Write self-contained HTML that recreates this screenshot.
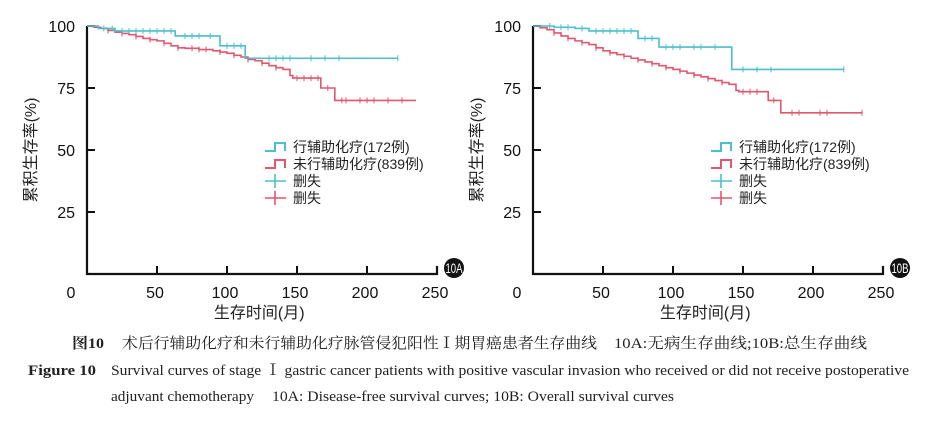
<!DOCTYPE html>
<html><head><meta charset="utf-8"><style>
html,body{margin:0;padding:0;background:#fff;}
svg{display:block;}
</style></head><body>
<svg id="fig" width="935" height="422" viewBox="0 0 935 422" xmlns="http://www.w3.org/2000/svg"></svg>
<script>
// ---- data ----
const xTicks = [0, 50, 100, 150, 200, 250];
const yTicks = [25, 50, 75, 100];
// Panel A (disease-free survival)
const aCyanT = [0, 8, 20, 63, 95, 113, 222];
const aCyanS = [100, 99, 98, 96, 92, 87, 87];
const aRedT = [0, 5, 10, 15, 20, 25, 30, 35, 40, 45, 50, 55, 60, 65, 70, 80, 90, 95, 100, 105, 110, 115, 120, 125, 130, 135, 140, 145, 147, 167, 177, 235];
const aRedS = [100, 99.5, 99, 98.2, 97.5, 97, 96.5, 95.8, 95, 94.5, 94, 93, 92, 91.2, 91, 90.5, 90, 89.5, 89, 88.2, 87.5, 86.5, 86, 85, 84, 83.2, 82.5, 80, 79, 75, 70, 70];
const aCyanCens = [12, 18, 25, 30, 35, 40, 45, 50, 55, 60, 70, 75, 80, 88, 100, 105, 110, 130, 135, 140, 145, 160, 170, 180, 222];
const aRedCens = [15, 25, 35, 45, 55, 65, 75, 80, 85, 95, 105, 115, 125, 135, 150, 155, 160, 165, 172, 182, 185, 195, 200, 205, 215, 225];
// Panel B (overall survival)
const bCyanT = [0, 15, 30, 40, 75, 90, 142, 222];
const bCyanS = [100, 99.5, 99, 98, 95, 91.5, 82.5, 82.5];
const bRedT = [0, 5, 10, 15, 20, 25, 30, 35, 40, 45, 50, 55, 60, 65, 70, 75, 80, 85, 90, 95, 100, 105, 110, 115, 120, 125, 130, 135, 140, 145, 147, 168, 177, 235];
const bRedS = [100, 99.3, 98.5, 97.2, 96, 95, 94, 93.3, 92.5, 91.2, 90, 89.2, 88.5, 87.8, 87, 86.3, 85.5, 84.8, 84, 83.2, 82.5, 81.8, 81, 80.2, 79.5, 78.8, 78, 77.2, 76.5, 74, 73.5, 70, 65, 65];
const bCyanCens = [12, 20, 25, 35, 45, 50, 55, 60, 65, 70, 80, 85, 95, 100, 105, 115, 120, 130, 150, 160, 170, 222];
const bRedCens = [15, 25, 35, 45, 55, 65, 75, 85, 95, 105, 115, 125, 135, 150, 155, 160, 172, 185, 190, 205, 210, 235];
const legendLabels = ["行辅助化疗(172例)", "未行辅助化疗(839例)", "删失", "删失"];

const NS = "http://www.w3.org/2000/svg";
const svg = document.getElementById("fig");
const CY = "#4bbfcc", RD = "#e2566f";
const FONT = '"Liberation Sans","Noto Sans CJK SC",sans-serif';
function el(tag, attrs, parent) {
  const e = document.createElementNS(NS, tag);
  for (const k in attrs) e.setAttribute(k, attrs[k]);
  (parent || svg).appendChild(e);
  return e;
}
function txt(s, attrs, parent) { const t = el("text", attrs, parent); t.textContent = s; return t; }

function panel(ox, label, cT, cS, rT, rS, cC, rC, id) {
  const g = el("g", {});
  
  
  const x = t => ox + t * 1.4;
  const y = s => 274 - s * 2.48;
  const ax = el("path", { d: `M${x(0)},${y(100)} V${y(0)} H${x(250)} V${y(0)-8}`, fill: "none", stroke: "#111", "stroke-width": 2.2 }, g);
  
  
  xTicks.forEach(v => {
    if (v > 0 && v < 250) el("line", { x1: x(v), x2: x(v), y1: y(0), y2: y(0) - 8, stroke: "#111", "stroke-width": 2 }, g);
    const t = txt(String(v), { x: v === 0 ? x(v) - 16 : x(v) - 2, y: 298, "font-size": 16, "font-family": FONT, "text-anchor": "middle", fill: "#111" }, g);
    
    
  });
  yTicks.forEach(v => {
    el("line", { x1: x(0), x2: x(0) + 8, y1: y(v), y2: y(v), stroke: "#111", "stroke-width": 2 }, g);
    const t = txt(String(v), { x: x(0) - 12, y: y(v) + 6, "font-size": 16, "font-family": FONT, "text-anchor": "end", fill: "#111" }, g);
    
    
  });
  const xt = txt("生存时间(月)", { x: x(123), y: 318, "font-size": 16, "font-family": FONT, "text-anchor": "middle", fill: "#222" }, g);
  
  
  const yt = txt("累积生存率(%)", { x: 0, y: 0, "font-size": 16, "font-family": FONT, "text-anchor": "middle", fill: "#222", transform: `translate(${ox - 51},150) rotate(-90)` }, g);
  
  
  function step(T, S, color, name, cens) {
    let d = `M${x(T[0])},${y(S[0])}`;
    for (let i = 1; i < T.length; i++) d += ` H${x(T[i])} V${y(S[i])}`;
    const p = el("path", { d, fill: "none", stroke: color, "stroke-width": 1.6 }, g);
    
    
    cens.forEach(c => {
      let s = S[0];
      for (let i = 0; i < T.length; i++) if (T[i] <= c) s = S[i];
      const m = el("line", { x1: x(c), x2: x(c), y1: y(s) - 3, y2: y(s) + 3, stroke: color, "stroke-width": 1 }, g);
      
      
    });
  }
  step(rT, rS, RD, 'curve-no-chemo', rC);
  step(cT, cS, CY, 'curve-chemo', cC);
  const lx = ox + 178, ly = 147;
  const colors = [CY, RD, CY, RD];
  legendLabels.forEach((lab, i) => {
    const yy = ly + i * 17;
    const c = colors[i];
    let sym;
    if (i < 2) sym = el("path", { d: `M${lx},${yy+4} H${lx+10} V${yy-4} H${lx+20} V${yy+4}`, fill: "none", stroke: c, "stroke-width": 2 }, g);
    else sym = el("path", { d: `M${lx},${yy} H${lx+21} M${lx+10},${yy-7} V${yy+7}`, fill: "none", stroke: c, "stroke-width": 1.6 }, g);
    
    
    const t = txt(lab, { x: lx + 28, y: yy + 5, "font-size": 14, "font-family": FONT, fill: "#222" }, g);
    
    
  });
  const b = el("circle", { cx: x(250) + 17, cy: 268, r: 10, fill: "#111" }, g);
  
  
  const bt = txt(label, { x: x(250) + 17, y: 273, "font-size": 14, "font-family": FONT, "text-anchor": "middle", fill: "#fff", textLength: 17, lengthAdjust: "spacingAndGlyphs" }, g);
  
  
}
panel(87, "10A", aCyanT, aCyanS, aRedT, aRedS, aCyanCens, aRedCens, 'a');
panel(533, "10B", bCyanT, bCyanS, bRedT, bRedS, bCyanCens, bRedCens, 'b');

const SERIF = '"Liberation Serif","Noto Serif CJK SC",serif';
function cap(s, x, y, len, bold, name) {
  const t = txt(s, { x, y, "font-size": 15, "font-family": SERIF, fill: "#222", textLength: len, lengthAdjust: "spacingAndGlyphs", "font-weight": bold ? "bold" : "normal" });
  
  
}
cap("图10", 72, 348, 32, true, 'caption-cn-label');
cap("术后行辅助化疗和未行辅助化疗脉管侵犯阳性Ⅰ期胃癌患者生存曲线", 122, 348, 475, false, 'caption-cn');
cap("10A:无病生存曲线;10B:总生存曲线", 614, 348, 253, false, 'caption-cn-parts');
cap("Figure 10", 28, 375, 68, true, 'caption-en-label');
cap("Survival curves of stage Ⅰ gastric cancer patients with positive vascular invasion who received or did not receive postoperative", 111, 375, 798, false, 'caption-en-1');
cap("adjuvant chemotherapy", 111, 401, 143, false, 'caption-en-2a');
cap("10A: Disease-free survival curves; 10B: Overall survival curves", 272, 401, 402, false, 'caption-en-2b');
</script>
</body></html>
